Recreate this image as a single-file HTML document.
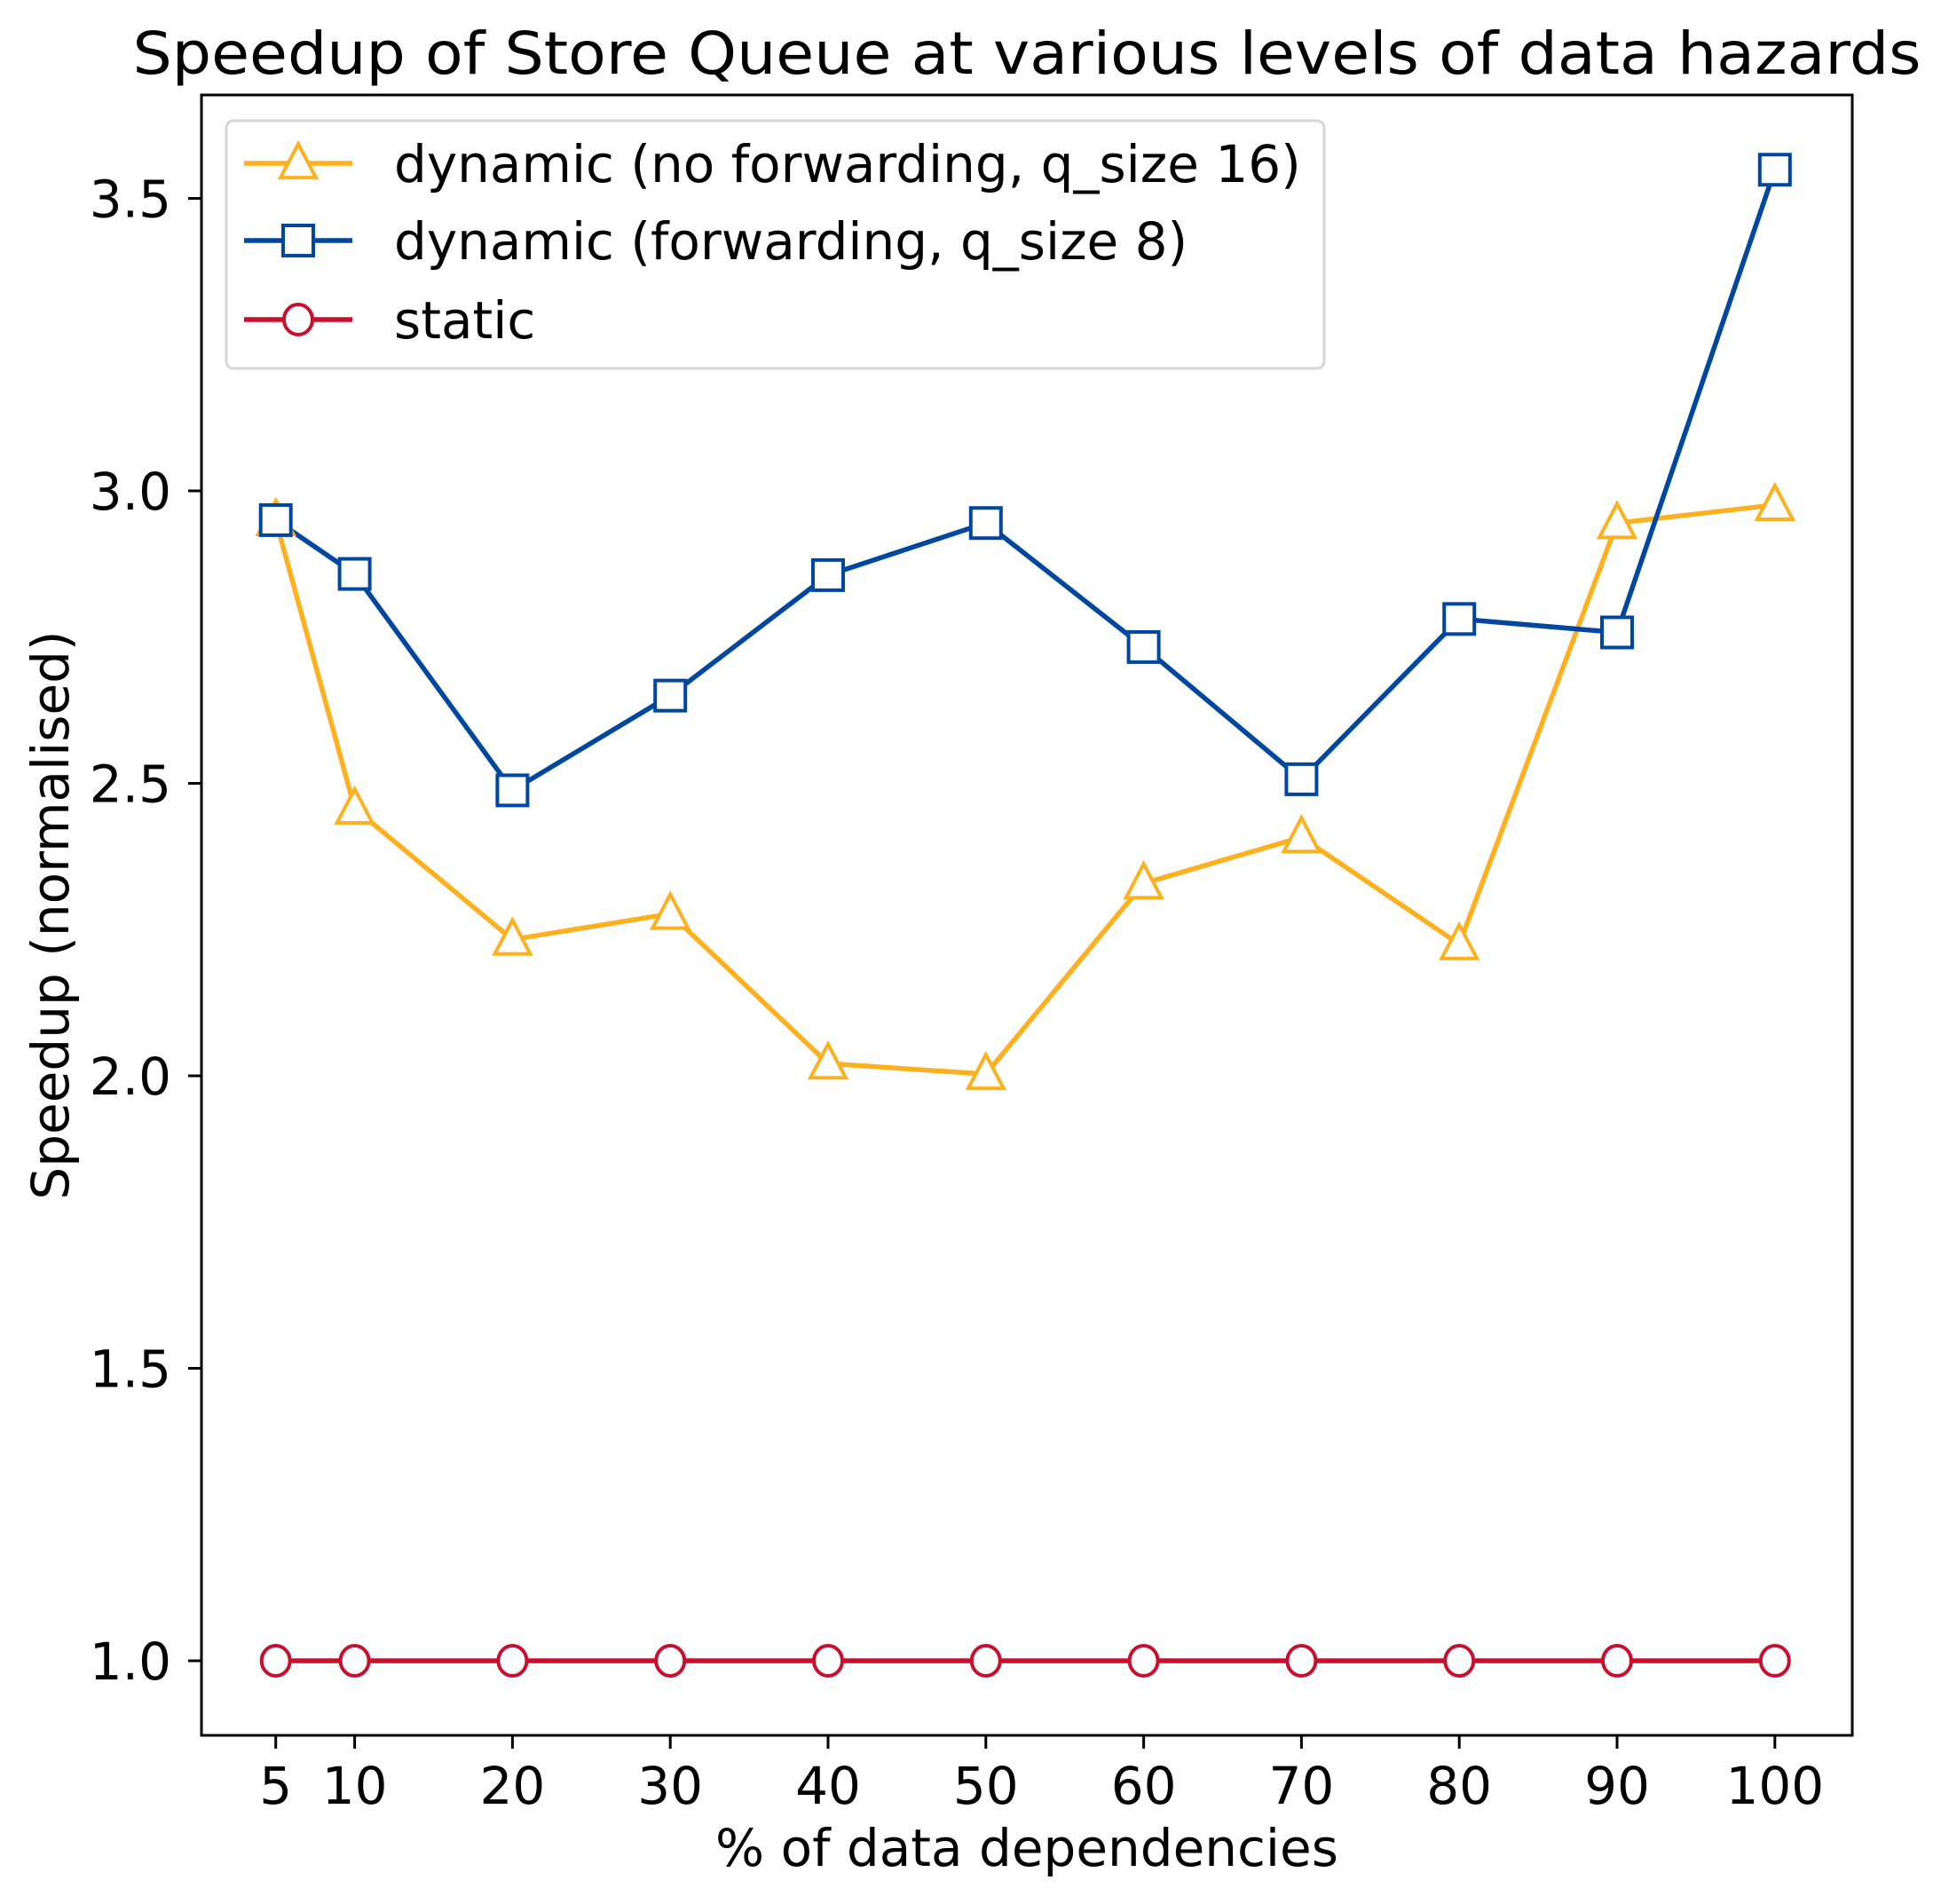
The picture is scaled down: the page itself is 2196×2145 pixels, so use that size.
<!DOCTYPE html>
<html><head><meta charset="utf-8">
<style>
html,body{margin:0;padding:0;background:#fff;}
svg{display:block;font-family:"DejaVu Sans","Liberation Sans",sans-serif;}
</style></head>
<body>
<svg id="chart" width="2196" height="2145" viewBox="0 0 2196 2145" xmlns="http://www.w3.org/2000/svg">
<rect width="2196" height="2145" fill="#fff"/>
<text x="1157" y="83" font-size="66" text-anchor="middle" textLength="2015" lengthAdjust="spacingAndGlyphs">Speedup of Store Queue at various levels of data hazards</text>
<g id="plot"></g>
<rect x="227" y="107" width="1860" height="1848" fill="none" stroke="#000" stroke-width="3"/>
<text x="1157" y="2102" font-size="58" text-anchor="middle">% of data dependencies</text>
<text x="0" y="0" font-size="58" text-anchor="middle" transform="translate(77,1031) rotate(-90)">Speedup (normalised)</text>
<g id="legend">
<rect x="255" y="136" width="1237" height="279" rx="8" fill="#fff" fill-opacity="0.8" stroke="#d6d6d6" stroke-width="3"/>
</g>
</svg>
<script>
const categories = [5, 10, 20, 30, 40, 50, 60, 70, 80, 90, 100];
const noFwdValues = [2.95, 2.457, 2.233, 2.277, 2.021, 2.003, 2.329, 2.408, 2.225, 2.945, 2.976];
const fwdValues = [2.95, 2.858, 2.488, 2.65, 2.856, 2.945, 2.733, 2.507, 2.781, 2.758, 3.549];
const staticValues = [1, 1, 1, 1, 1, 1, 1, 1, 1, 1, 1];
const yTicks = [1.0, 1.5, 2.0, 2.5, 3.0, 3.5];
const seriesNames = ["dynamic (no forwarding, q_size 16)", "dynamic (forwarding, q_size 8)", "static"];

const NS = "http://www.w3.org/2000/svg";
function xs(v){ return 310.7 + (v - 5) * 17.78; }
function ys(v){ return 1871 - (v - 1) * 659; }
function mk(tag, attrs, parent){
  const e = document.createElementNS(NS, tag);
  for (const k in attrs) e.setAttribute(k, attrs[k]);
  parent.appendChild(e);
  return e;
}
const svg = document.getElementById('chart');
const plot = document.getElementById('plot');
const legend = document.getElementById('legend');

yTicks.forEach(t => {
  const y = ys(t);
  const l = mk('line', {x1:212, x2:227, y1:y, y2:y, stroke:'#000', 'stroke-width':3}, svg);
  
  
  const tx = mk('text', {x:193, y:y+21, 'font-size':58, 'text-anchor':'end'}, svg);
  tx.textContent = t.toFixed(1);
  
  
});
categories.forEach(c => {
  const x = xs(c);
  const l = mk('line', {x1:x, x2:x, y1:1955, y2:1970, stroke:'#000', 'stroke-width':3}, svg);
  
  
  const tx = mk('text', {x:x, y:2032, 'font-size':58, 'text-anchor':'middle'}, svg);
  tx.textContent = String(c);
  
  
});

function marker(kind, cx, cy, color, parent){
  let e;
  if (kind === 'tri') {
    const s = 19;
    e = mk('polygon', {points:`${cx},${cy-s*1.15} ${cx-s*1.05},${cy+s*0.85} ${cx+s*1.05},${cy+s*0.85}`, fill:'#fff', stroke:color, 'stroke-width':4}, parent);
  } else if (kind === 'sq') {
    e = mk('rect', {x:cx-17, y:cy-17, width:34, height:34, fill:'#fff', stroke:color, 'stroke-width':4}, parent);
  } else {
    e = mk('ellipse', {cx:cx, cy:cy, rx:16, ry:17, fill:'#fff', stroke:color, 'stroke-width':4}, parent);
  }
  return e;
}

const series = [
  {vals: noFwdValues, color:'#ffb01f', kind:'tri', name:'no-forwarding'},
  {vals: fwdValues, color:'#0047a0', kind:'sq', name:'forwarding'},
  {vals: staticValues, color:'#c8102e', kind:'circ', name:'static'}
];
series.forEach(s => {
  const pts = categories.map((c, i) => xs(c) + ',' + ys(s.vals[i])).join(' ');
  const pl = mk('polyline', {points:pts, fill:'none', stroke:s.color, 'stroke-width':5.5, 'stroke-linejoin':'round'}, plot);
  
  
});
series.forEach(s => {
  categories.forEach((c, i) => {
    const m = marker(s.kind, xs(c), ys(s.vals[i]), s.color, plot);
    
    
  });
});

const rowsY = [184, 271, 360];
series.forEach((s, i) => {
  const y = rowsY[i];
  const ln = mk('line', {x1:275, x2:397, y1:y, y2:y, stroke:s.color, 'stroke-width':5.5}, legend);
  
  
  const m = marker(s.kind, 336, y, s.color, legend);
  
  
  const t = mk('text', {x:444, y:y+21, 'font-size':58}, legend);
  t.textContent = seriesNames[i];
  
  
});
</script>
</body></html>
